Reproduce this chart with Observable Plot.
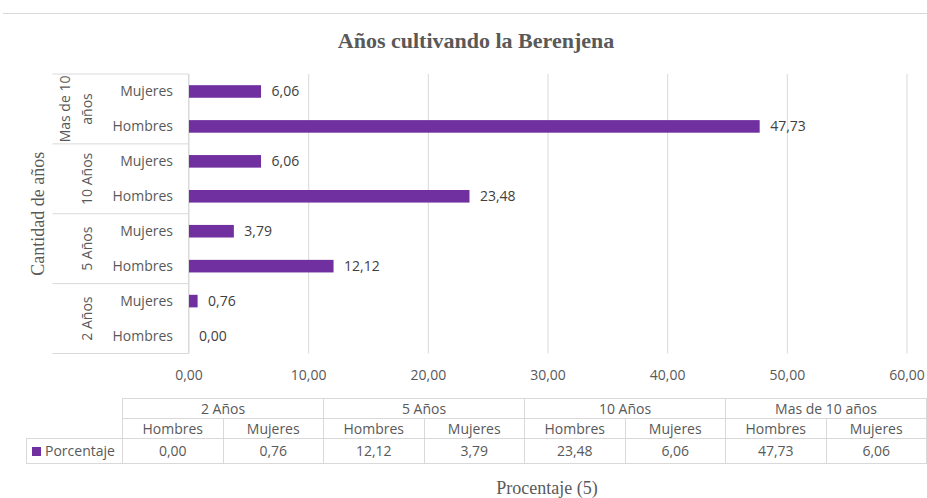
<!DOCTYPE html>
<html>
<head>
<meta charset="utf-8">
<script src="https://cdn.jsdelivr.net/npm/d3@7"></script>
<script src="https://cdn.jsdelivr.net/npm/@observablehq/plot@0.6"></script>
<style>
  html, body { margin: 0; padding: 0; background: #fff; }
  #wrap { position: relative; width: 927px; height: 498px; overflow: hidden; background: #fff; }
  #topline { position: absolute; left: 3px; top: 13px; width: 924px; height: 1px; background: #d9d9d9; }
  #title { position: absolute; left: 476px; top: 30px; transform: translateX(-50%); white-space: nowrap;
           font-family: "Liberation Serif", "Times New Roman", serif; font-weight: bold; font-size: 22px;
           line-height: 22px; color: #595959; }
  #chart { position: absolute; left: 0; top: 60px; }
  #tbl { position: absolute; left: 26px; top: 398px; border-collapse: collapse; table-layout: fixed;
         font-family: "Open Sans", sans-serif; font-size: 14px; color: #595959; }
  #tbl td { border: 1px solid #d9d9d9; padding: 0; text-align: center; vertical-align: middle; white-space: nowrap; }
  #tbl td.blank { border: none; }
  #tbl tr.h1 td, #tbl tr.h2 td { height: 19px; line-height: 19px; }
  #tbl tr.dv td { height: 24px; line-height: 24px; }
  #tbl td.series { text-align: left; }
  .sw { display: inline-block; width: 9px; height: 9px; margin: 0 4px 0 5px; vertical-align: -0px; }
  #xtitle { position: absolute; left: 547px; top: 479px; transform: translateX(-50%); white-space: nowrap;
            font-family: "Liberation Serif", "Times New Roman", serif; font-size: 18px; line-height: 18px; color: #595959; }
</style>
</head>
<body>
<div id="wrap">
  <div id="topline"></div>
  <div id="title"></div>
  <div id="chart"></div>
  <table id="tbl"></table>
  <div id="xtitle"></div>
</div>
<script>
// ---- data ----
const title = "Años cultivando la Berenjena";
const yTitle = "Cantidad de años";
const xTitle = "Procentaje (5)";
const seriesName = "Porcentaje";
const seriesColor = "#7030A0";
const groups = ["2 Años", "5 Años", "10 Años", "Mas de 10 años"];
const sexes = ["Hombres", "Mujeres"];
const hombres = [0.00, 12.12, 23.48, 47.73];
const mujeres = [0.76, 3.79, 6.06, 6.06];
const xTicks = [0, 10, 20, 30, 40, 50, 60];

const fmt = v => v.toFixed(2).replace(".", ",");
const values = {Hombres: hombres, Mujeres: mujeres};
const rows = groups.flatMap((g, i) => sexes.map(s => ({group: g, sex: s, value: values[s][i]})));
const key = d => d.group + "|" + d.sex;
const yDomain = rows.map(key).reverse();

function wrapLabel(s, max) {
  const words = s.split(" "); const lines = []; let cur = "";
  for (const w of words) {
    const t = cur ? cur + " " + w : w;
    if (t.length > max && cur) { lines.push(cur); cur = w; } else cur = t;
  }
  if (cur) lines.push(cur);
  return lines;
}

// decorations: category box, group dividers, group labels, y title
function decor(index, scales, vals, dim) {
  const y = scales.y;
  const step = y.step ? y.step() : (y(yDomain[1]) - y(yDomain[0]));
  const bw = y.bandwidth ? y.bandwidth() : 0;
  const gap = (step - bw) / 2;
  const x0 = dim.marginLeft;
  const left = 52.5;
  const g = d3.create("svg:g");
  const top = y(yDomain[0]) - gap;
  const bottom = y(yDomain[yDomain.length - 1]) + bw + gap;
  g.append("line").attr("x1", x0).attr("x2", x0).attr("y1", top).attr("y2", bottom)
    .attr("stroke", "#d9d9d9");
  const gs = groups.slice().reverse();
  gs.forEach((grp, i) => {
    const t = y(grp + "|Mujeres") - gap;
    const b = y(grp + "|Hombres") + bw + gap;
    g.append("line").attr("x1", left).attr("x2", x0).attr("y1", t).attr("y2", t).attr("stroke", "#d9d9d9");
    if (i === gs.length - 1)
      g.append("line").attr("x1", left).attr("x2", x0).attr("y1", b).attr("y2", b).attr("stroke", "#d9d9d9");
    const lines = wrapLabel(grp, 10);
    const mid = (t + b) / 2;
    lines.forEach((ln, j) => {
      const lx = 87 - 21.7 * (lines.length - 1 - j);
      g.append("text").attr("transform", `translate(${lx},${mid}) rotate(-90)`)
        .attr("text-anchor", "middle").attr("dy", "0.35em")
        .attr("fill", "#595959").attr("font-size", 14).text(ln);
    });
  });
  g.append("text").attr("transform", `translate(38,${(top + bottom) / 2}) rotate(-90)`)
    .attr("text-anchor", "middle").attr("dy", "0.35em")
    .attr("font-family", "'Liberation Serif', 'Times New Roman', serif").attr("font-size", 18)
    .attr("fill", "#595959").text(yTitle);
  return g.node();
}

const chart = Plot.plot({
  width: 927, height: 330,
  marginTop: 14, marginBottom: 36.5, marginLeft: 188.5, marginRight: 20.5,
  style: {fontFamily: "'Open Sans', sans-serif", fontSize: "14px", color: "#595959", background: "transparent", overflow: "visible"},
  x: {domain: [0, 60]},
  y: {domain: yDomain, paddingInner: 0.64, paddingOuter: 0.32, round: false},
  marks: [
    Plot.gridX(xTicks, {stroke: "#d9d9d9", strokeOpacity: 1}),
    Plot.axisX(xTicks, {tickSize: 0, tickPadding: 16, tickFormat: fmt, label: null, fill: "#595959"}),
    Plot.axisY({tickSize: 0, tickPadding: 16, tickFormat: k => k.split("|")[1], label: null, fill: "#595959"}),
    Plot.barX(rows, {x: "value", y: key, fill: seriesColor}),
    Plot.text(rows, {x: "value", y: key, text: d => fmt(d.value), textAnchor: "start", dx: 10, fill: "#404040"}),
    decor
  ]
});
document.getElementById("chart").appendChild(chart);
document.getElementById("title").textContent = title;
document.getElementById("xtitle").textContent = xTitle;

// data table
const tbl = d3.select("#tbl");
const colW = 100.5;
const cg = tbl.append("colgroup");
cg.append("col").style("width", "96px");
groups.forEach(() => sexes.forEach(() => cg.append("col").style("width", colW + "px")));
const r1 = tbl.append("tr").attr("class", "h1");
r1.append("td").attr("class", "blank");
groups.forEach(g => r1.append("td").attr("colspan", 2).text(g));
const r2 = tbl.append("tr").attr("class", "h2");
r2.append("td").attr("class", "blank");
groups.forEach(() => sexes.forEach(s => r2.append("td").text(s)));
const r3 = tbl.append("tr").attr("class", "dv");
const sc = r3.append("td").attr("class", "series");
sc.append("span").attr("class", "sw").style("background", seriesColor);
sc.append("span").text(seriesName);
groups.forEach((g, i) => sexes.forEach(s => r3.append("td").text(fmt(values[s][i]))));
</script>
</body>
</html>
